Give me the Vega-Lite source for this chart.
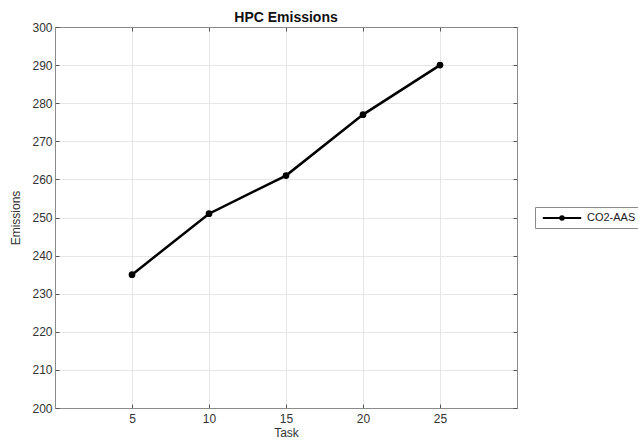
{
  "$schema": "https://vega.github.io/schema/vega-lite/v6.json",
  "width": 462,
  "height": 381,
  "autosize": "none",
  "padding": {"left": 55, "top": 27, "right": 121, "bottom": 33},
  "background": "white",
  "title": {"text": "HPC Emissions", "font": "Liberation Sans", "fontSize": 14, "fontWeight": "bold", "color": "#111", "offset": -4},
  "data": {"values": [
    {"task": 5, "emissions": 235, "series": "CO2-AAS"},
    {"task": 10, "emissions": 251, "series": "CO2-AAS"},
    {"task": 15, "emissions": 261, "series": "CO2-AAS"},
    {"task": 20, "emissions": 277, "series": "CO2-AAS"},
    {"task": 25, "emissions": 290, "series": "CO2-AAS"}
  ]},
  "config": {
    "view": {"stroke": "#8a8a8a", "strokeWidth": 1},
    "axis": {
      "labelFont": "Liberation Sans", "labelFontSize": 12, "labelColor": "#333",
      "titleFont": "Liberation Sans", "titleFontSize": 12, "titleFontWeight": "normal", "titleColor": "#333",
      "domainColor": "#8a8a8a", "tickColor": "#555", "tickSize": -4,
      "gridColor": "#e6e6e6", "gridWidth": 1
    },
    "legend": {
      "labelFont": "Liberation Sans", "labelFontSize": 11, "labelColor": "#222"
    }
  },
  "resolve": {"axis": {"x": "independent", "y": "independent"}},
  "layer": [
    {
      "mark": {"type": "line", "color": "black", "strokeWidth": 2.5},
      "encoding": {
        "x": {"field": "task", "type": "quantitative", "scale": {"domain": [0, 30], "nice": false},
              "axis": {"title": "Task", "values": [5, 10, 15, 20, 25], "labelPadding": 9, "titlePadding": 3}},
        "y": {"field": "emissions", "type": "quantitative", "scale": {"domain": [200, 300], "nice": false, "zero": false},
              "axis": {"title": "Emissions", "values": [200, 210, 220, 230, 240, 250, 260, 270, 280, 290, 300], "labelPadding": 7, "titlePadding": 9}},
        "color": {"field": "series", "type": "nominal", "scale": {"range": ["black"]},
                  "legend": {"title": null, "orient": "none", "legendX": 480, "legendY": 180,
                             "symbolType": "M-3.2,0H3.2M-0.3,0A0.3,0.3 0 1,1 0.3,0A0.3,0.3 0 1,1 -0.3,0Z",
                             "symbolSize": 144, "symbolStrokeWidth": 2, "symbolFillColor": "black", "symbolStrokeColor": "black",
                             "strokeColor": "#8a8a8a", "fillColor": "white", "padding": 4, "labelOffset": 18, "symbolOffset": 16}}
      }
    },
    {
      "mark": {"type": "point", "filled": true, "color": "black", "size": 45, "opacity": 1},
      "encoding": {
        "x": {"field": "task", "type": "quantitative",
              "axis": {"orient": "top", "title": null, "labels": false, "grid": false, "values": [5, 10, 15, 20, 25], "domainColor": "#8a8a8a"}},
        "y": {"field": "emissions", "type": "quantitative",
              "axis": {"orient": "right", "title": null, "labels": false, "grid": false, "values": [200, 210, 220, 230, 240, 250, 260, 270, 280, 290, 300]}}
      }
    }
  ]
}
